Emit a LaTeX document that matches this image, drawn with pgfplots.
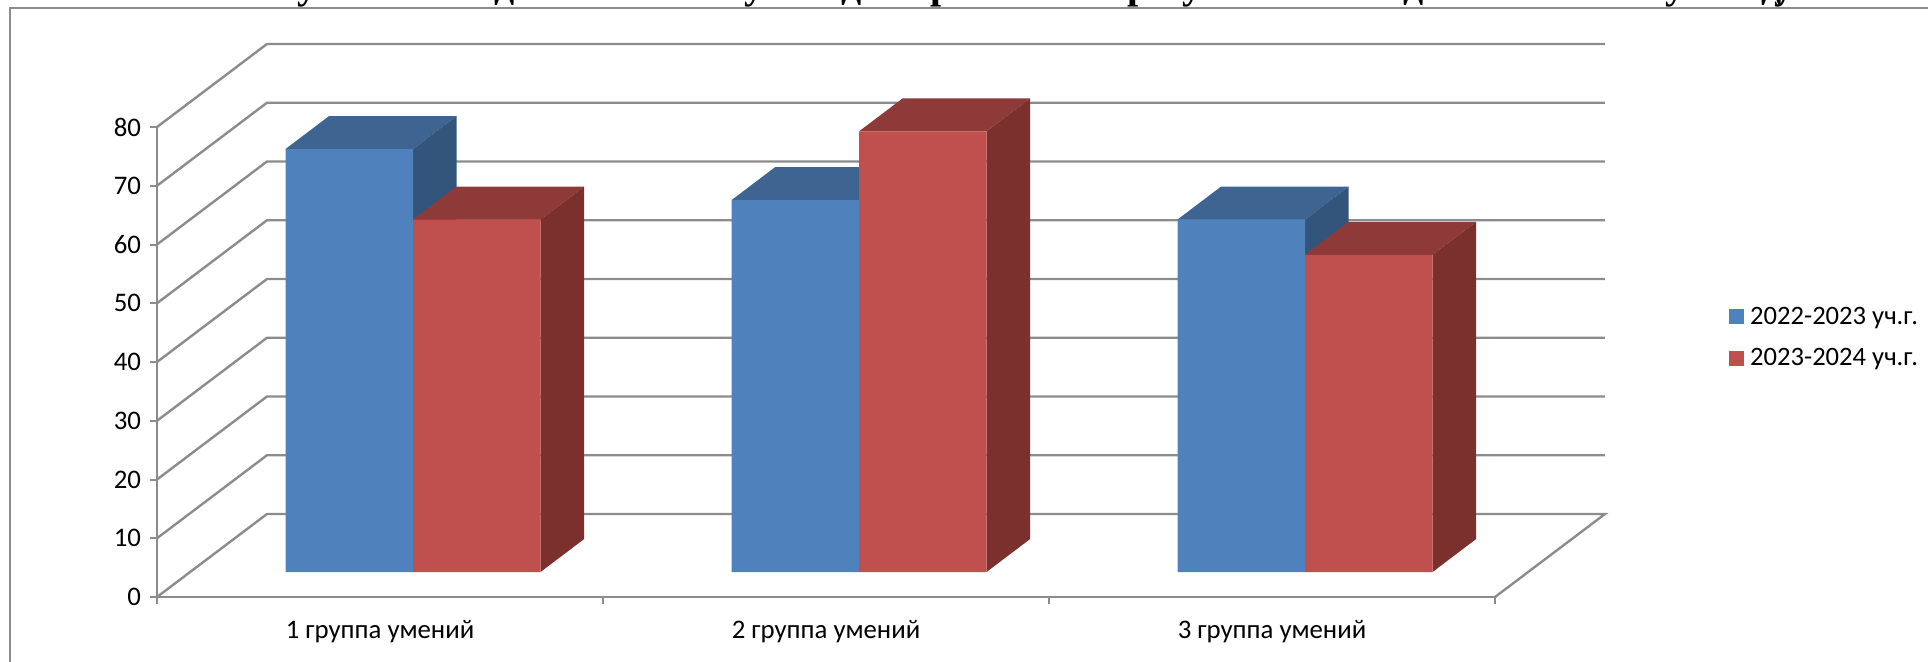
\documentclass[border=0pt]{standalone}
\usepackage{fontspec}
\setmainfont{Carlito}
\newfontfamily\titlefont{Liberation Serif}
\usepackage{pgfplots}
\usepackage{pgfplotstable}
\pgfplotsset{compat=1.18}

\definecolor{wallline}{HTML}{8C8C8C}
\definecolor{bluefront}{HTML}{4F81BD}
\definecolor{bluetop}{HTML}{3E6491}
\definecolor{blueside}{HTML}{34557B}
\definecolor{redfront}{HTML}{C0504D}
\definecolor{redtop}{HTML}{8E3A38}
\definecolor{redside}{HTML}{7B302E}

% group centre on the x axis, value
\pgfplotstableread{
x y
0.574 72
1.574 63.3
2.574 60
}\bluedata
\pgfplotstableread{
x y
0.574 60
1.574 75
2.574 54
}\reddata

\newcommand\barwidth{0.2859}
\newcommand\depthx{0.0975}
\newcommand\depthy{5.6}

% top and side of one bar: centre, value, shift of the front face, colours
\newcommand\depthfaces[5]{%
  \pgfmathsetmacro\xl{#1+#3-\barwidth/2}%
  \pgfmathsetmacro\xr{#1+#3+\barwidth/2}%
  \pgfmathsetmacro\xlb{\xl+\depthx}%
  \pgfmathsetmacro\xrb{\xr+\depthx}%
  \pgfmathsetmacro\yb{#2+\depthy}%
  \edef\cmd{\noexpand\addplot[forget plot,fill=#4,draw=none] coordinates
    {(\xl,#2) (\xlb,\yb) (\xrb,\yb) (\xr,#2)} -- cycle;
    \noexpand\addplot[forget plot,fill=#5,draw=none] coordinates
    {(\xr,0) (\xrb,\depthy) (\xrb,\yb) (\xr,#2)} -- cycle;}%
  \cmd}

\newcommand\sidefaces[4]{%
  \pgfplotsinvokeforeach{0,1,2}{%
    \pgfplotstablegetelem{##1}{x}\of#1\let\cx\pgfplotsretval
    \pgfplotstablegetelem{##1}{y}\of#1\let\cy\pgfplotsretval
    \depthfaces{\cx}{\cy}{#2}{#3}{#4}}}

\begin{document}
\begin{tikzpicture}[x=0.5pt,y=0.5pt]
\useasboundingbox (0,0) rectangle (1928,661);
% what is left of the heading above the frame
\foreach \px/\ch in {307/у,505/д,754/у,852/д,942/р,1139/р,1192/у,1414/д,1675/у,1772/д,1784/у}
  \node[anchor=base,inner sep=0pt,font=\titlefont\bfseries\fontsize{20}{22}\selectfont] at (\px,663) {\ch};
\draw[wallline,line width=1pt] (10,-5) -- (10,653) -- (1935,653);

\begin{axis}[
  at={(78.5pt,32pt)}, anchor=south west,
  scale only axis, width=669pt, height=235pt,
  xmin=0, xmax=3, ymin=0, ymax=80,
  clip=false,
  axis lines=left,
  axis line style={-,wallline,line width=1.2pt},
  tick style={wallline,line width=1pt},
  tick align=outside,
  major tick length=3.5pt,
  xtick={0,1,2,3},
  xticklabels={1 группа умений,2 группа умений,3 группа умений},
  x tick label as interval,
  ytick={0,10,...,80},
  /pgf/number format/assume math mode=true,
  tick label style={font=\fontsize{13.4}{15}\selectfont},
  xticklabel style={yshift=-4.8pt},
  yticklabel style={xshift=-1pt},
]
\addplot[wallline,line width=1.2pt] coordinates {(0,0) (0.2466,14.13) (3.2466,14.13) (3,0)};
\addplot[wallline,line width=1.2pt] coordinates {(0,10) (0.2466,24.13) (3.2466,24.13)};
\addplot[wallline,line width=1.2pt] coordinates {(0,20) (0.2466,34.13) (3.2466,34.13)};
\addplot[wallline,line width=1.2pt] coordinates {(0,30) (0.2466,44.13) (3.2466,44.13)};
\addplot[wallline,line width=1.2pt] coordinates {(0,40) (0.2466,54.13) (3.2466,54.13)};
\addplot[wallline,line width=1.2pt] coordinates {(0,50) (0.2466,64.13) (3.2466,64.13)};
\addplot[wallline,line width=1.2pt] coordinates {(0,60) (0.2466,74.13) (3.2466,74.13)};
\addplot[wallline,line width=1.2pt] coordinates {(0,70) (0.2466,84.13) (3.2466,84.13)};
\addplot[wallline,line width=1.2pt] coordinates {(0,80) (0.2466,94.13) (3.2466,94.13)};
\end{axis}

% bars stand in from the front edge of the floor, so their zero is higher up
\begin{axis}[
  at={(78.5pt,32pt)}, anchor=south west,
  scale only axis, width=669pt, height=235pt,
  xmin=0, xmax=3, ymin=-4.255, ymax=75.745,
  clip=false,
  hide axis,
  legend style={at={(axis cs:3.525,39.9)},anchor=west,draw=none,fill=none,
    inner sep=0pt,outer sep=0pt,row sep=10.5pt,
    nodes={font=\fontsize{13.3}{15}\selectfont,inner sep=0pt,inner xsep=3pt}},
  legend cell align=left,
]
\sidefaces{\bluedata}{-0.14295}{bluetop}{blueside}
\addplot[ybar,bar width=0.2859,bar shift=-0.14295,fill=bluefront,draw=none,
  legend image code/.code={\fill[bluefront] (0pt,-3.75pt) rectangle (7.5pt,3.75pt);}]
  table[x=x,y=y] {\bluedata};
\addlegendentry{2022-2023 уч.г.}
\sidefaces{\reddata}{0.14295}{redtop}{redside}
\addplot[ybar,bar width=0.2859,bar shift=0.14295,fill=redfront,draw=none,
  legend image code/.code={\fill[redfront] (0pt,-3.75pt) rectangle (7.5pt,3.75pt);}]
  table[x=x,y=y] {\reddata};
\addlegendentry{2023-2024 уч.г.}
\end{axis}
\end{tikzpicture}
\end{document}
